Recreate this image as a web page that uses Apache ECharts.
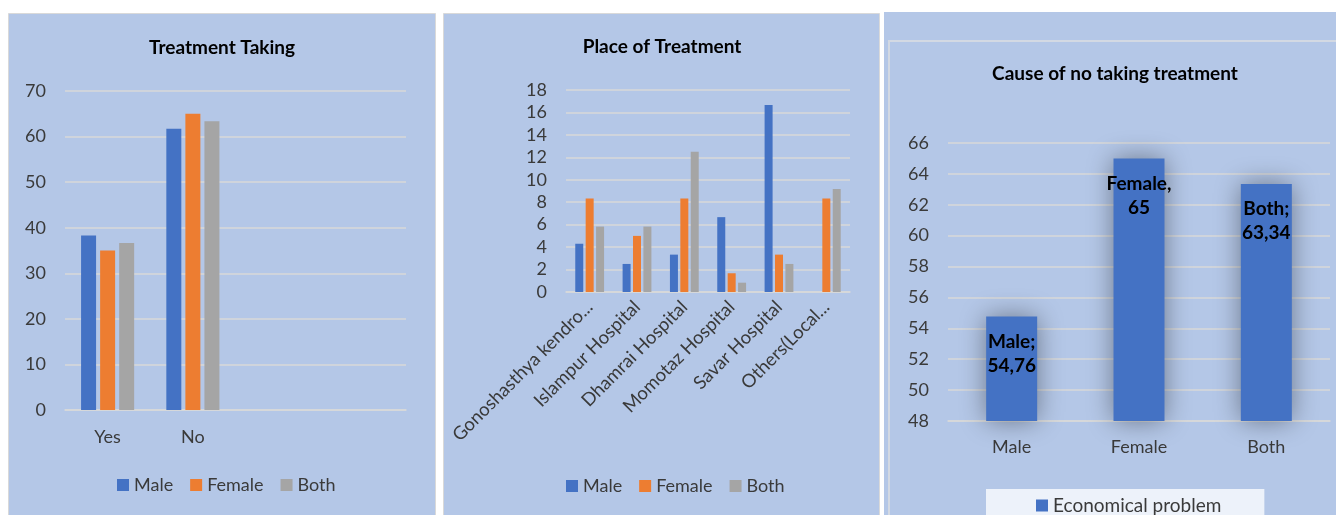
<!DOCTYPE html>
<html>
<head>
<meta charset="utf-8">
<script src="https://cdn.jsdelivr.net/npm/echarts@6/dist/echarts.min.js"></script>
<style>
html,body{margin:0;padding:0;background:#fff;}
#c{width:1336px;height:515px;}
</style>
</head>
<body>
<div id="c"></div>
<script>
// ---- Data ----
const takingCategories = ["Yes", "No", "", ""];
const takingMale = [38.3, 61.7];
const takingFemale = [35, 65];
const takingBoth = [36.66, 63.34];

const placeCategories = ["Gonoshasthya kendro...", "Islampur Hospital", "Dhamrai Hospital", "Momotaz Hospital", "Savar Hospital", "Others(Local..."];
const placeMale = [4.3, 2.5, 3.33, 6.67, 16.67, 0];
const placeFemale = [8.33, 5, 8.33, 1.67, 3.33, 8.33];
const placeBoth = [5.83, 5.83, 12.5, 0.83, 2.5, 9.17];

const causeCategories = ["Male", "Female", "Both"];
const causeValues = [54.76, 65, 63.34];
const causeSeparators = [";", ",", ";"];

const seriesNames = ["Male", "Female", "Both"];
const takingTicks = {min: 0, max: 70, interval: 10};
const placeTicks = {min: 0, max: 18, interval: 2};
const causeTicks = {min: 48, max: 66, interval: 2};

// ---- Styles ----
const FONT = "Lato";
const TXT = "#3a3a3a";
const BG = "#b4c7e7";
const GRIDC = "#d9d9d9";
const COLORS = ["#4472c4", "#ed7d31", "#a5a5a5"];

const chart = echarts.init(document.getElementById('c'));

function yAxis(gi, t) {
  return {
    type: 'value', gridIndex: gi, min: t.min, max: t.max, interval: t.interval,
    axisLine: {show: false}, axisTick: {show: false},
    axisLabel: {color: TXT, fontFamily: FONT, fontSize: 18, margin: 19},
    splitLine: {lineStyle: {color: GRIDC, width: 1.5}}
  };
}
function xAxis(gi, cats, extra) {
  return Object.assign({
    type: 'category', gridIndex: gi, data: cats,
    axisLine: {lineStyle: {color: GRIDC, width: 1.5}},
    axisTick: {show: false},
    axisLabel: {color: TXT, fontFamily: FONT, fontSize: 18, margin: 18, interval: 0}
  }, extra || {});
}
function titleCfg(text, x, y) {
  return {text: text, left: x, top: y, textAlign: 'center', padding: 0,
    textStyle: {fontFamily: FONT, fontSize: 19, fontWeight: 'bold', color: '#000'}};
}
function legendCfg(x, y, names) {
  return {data: names, left: x, top: y, itemWidth: 12, itemHeight: 12, itemGap: 17, padding: 0,
    icon: 'rect', textStyle: {fontFamily: FONT, fontSize: 18, color: TXT}};
}

const takingData = [takingMale, takingFemale, takingBoth];
const placeData = [placeMale, placeFemale, placeBoth];

const series = [];
seriesNames.forEach((n, i) => {
  series.push({type: 'bar', name: n, xAxisIndex: 0, yAxisIndex: 0, data: takingData[i],
    barWidth: 15, barGap: '27%', itemStyle: {color: COLORS[i]}});
});
seriesNames.forEach((n, i) => {
  series.push({type: 'bar', name: n, xAxisIndex: 1, yAxisIndex: 1, data: placeData[i],
    barWidth: 8, barGap: '30%', itemStyle: {color: COLORS[i]}});
});
series.push({
  type: 'bar', name: 'Economical problem', xAxisIndex: 2, yAxisIndex: 2, data: causeValues,
  barWidth: 51,
  itemStyle: {color: COLORS[0], shadowBlur: 26, shadowColor: 'rgba(0,0,0,0.4)'},
  label: {
    show: true, position: 'insideTop', distance: 13,
    fontFamily: FONT, fontSize: 19, fontWeight: 'bold', color: '#000', lineHeight: 24,
    formatter: p => p.name + causeSeparators[p.dataIndex] + '\n' + String(p.value).replace('.', ',')
  }
});

chart.setOption({
  backgroundColor: '#ffffff',
  animation: false,
  graphic: [
    {type: 'rect', z: -100, silent: true, shape: {x: 8.5, y: 13.5, width: 427, height: 520},
      style: {fill: BG, stroke: GRIDC, lineWidth: 1}},
    {type: 'rect', z: -100, silent: true, shape: {x: 443.5, y: 13.5, width: 436, height: 520},
      style: {fill: BG, stroke: GRIDC, lineWidth: 1}},
    {type: 'rect', z: -100, silent: true, shape: {x: 884, y: 12, width: 470, height: 520},
      style: {fill: BG}},
    {type: 'rect', z: -99, silent: true, shape: {x: 889, y: 41, width: 470, height: 520},
      style: {fill: 'none', stroke: '#d3d9e3', lineWidth: 2}}
  ],
  title: [
    titleCfg('Treatment Taking', 222, 38),
    titleCfg('Place of Treatment', 662, 37),
    titleCfg('Cause of no taking treatment', 1115, 64)
  ],
  legend: [
    legendCfg(117, 476, seriesNames),
    legendCfg(566, 477, seriesNames),
    {data: ['Economical problem'], left: 986, top: 489,
      itemWidth: 12, itemHeight: 12, icon: 'rect',
      backgroundColor: '#edf2fa', padding: [7, 43, 12, 50],
      textStyle: {fontFamily: FONT, fontSize: 19, color: TXT}}
  ],
  grid: [
    {left: 65, right: 930, top: 91, bottom: 105},
    {left: 566, right: 486, top: 90, bottom: 223},
    {left: 948, right: 6, top: 143, bottom: 94}
  ],
  xAxis: [
    xAxis(0, takingCategories),
    xAxis(1, placeCategories, {axisLabel: {color: TXT, fontFamily: FONT, fontSize: 18.5, margin: 12, interval: 0, rotate: 45}}),
    xAxis(2, causeCategories, {axisLabel: {color: TXT, fontFamily: FONT, fontSize: 18, margin: 17, interval: 0}})
  ],
  yAxis: [yAxis(0, takingTicks), yAxis(1, placeTicks), yAxis(2, causeTicks)],
  series: series
});
</script>
</body>
</html>
